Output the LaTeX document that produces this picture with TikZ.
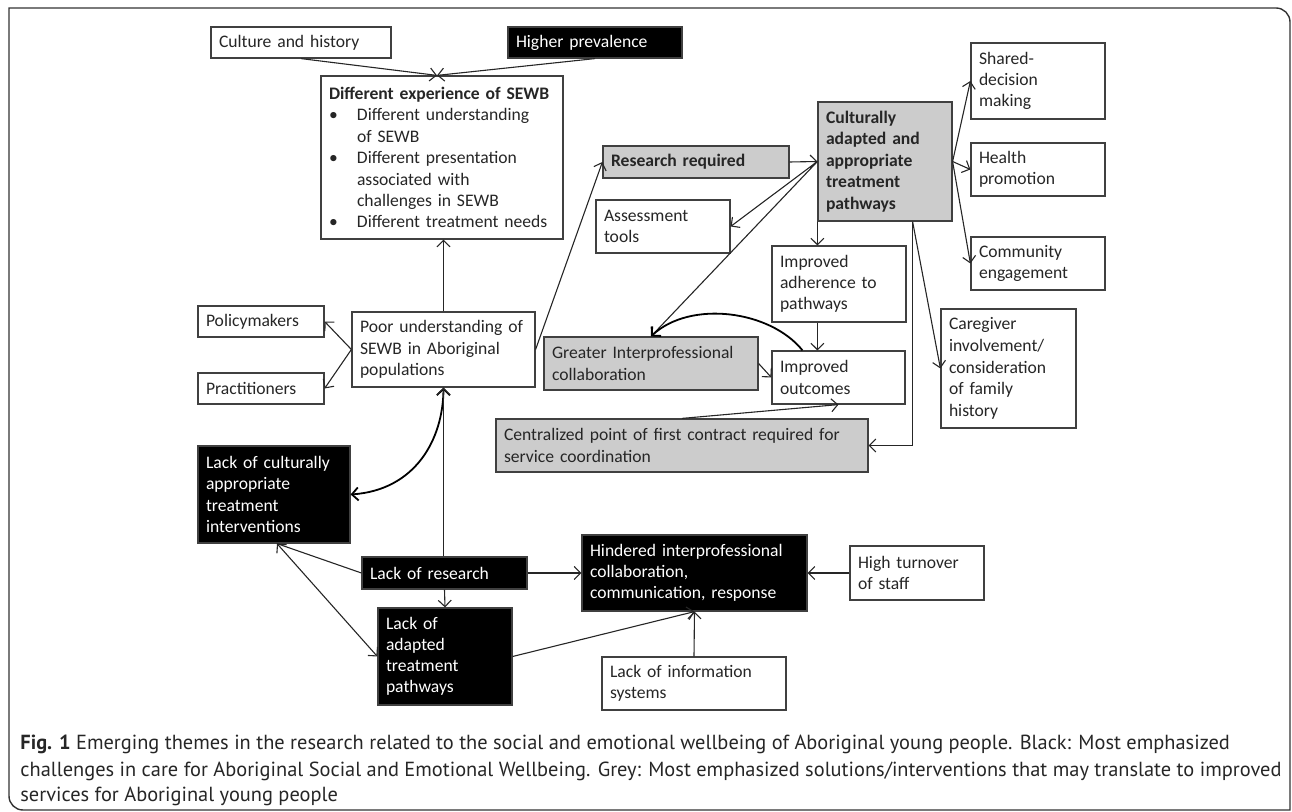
\documentclass[tikz,border=0pt]{standalone}
\usepackage{fontspec}
\setmainfont{Carlito}
\newfontfamily\capfont{PT Sans}
\usetikzlibrary{arrows.meta}

\begin{document}
\begin{tikzpicture}[x=0.5pt, y=-0.5pt,
    >={Straight Barb[length=3.2pt,width=6.5pt]},
    box/.style={rectangle, draw=black!75, line width=0.6pt, inner xsep=4pt,
      inner ysep=0pt, align=left, text=black!85,
      font=\fontsize{8.8}{10.6}\selectfont},
    plainbox/.style={box, fill=white},
    darkbox/.style={box, fill=black, text=white},
    greybox/.style={box, fill=black!20},
    link/.style={->, line width=0.55pt, draw=black!85},
    curvelink/.style={line width=0.9pt, draw=black}
    ]
  \useasboundingbox (0,0) rectangle (1292,812);
  % frame
  \draw[line width=0.7pt, black!80] (9,796) -- (9,8) -- (1276,8)
    arc[start angle=90, end angle=0, radius=7pt] -- (1290,810) -- (23,810)
    arc[start angle=270, end angle=180, radius=7pt] -- cycle;

  % top left
  \node[plainbox, text width=82pt, minimum height=15.5pt] (culture) at (301,42.5) {Culture and history};
  \node[darkbox, text width=79pt, minimum height=15.5pt] (prev) at (595,42.5) {Higher prevalence};
  \node[plainbox, text width=113pt, minimum height=81.5pt, font=\fontsize{8.8}{10.7}\selectfont] (diffexp) at (442,157.5) {%
    \mbox{\textbf{Different experience of SEWB}}\\
    \makebox[14pt][l]{\textbullet}Different understanding\\
    \hspace*{14pt}of SEWB\\
    \makebox[14pt][l]{\textbullet}Different presentation\\
    \hspace*{14pt}associated with\\
    \hspace*{14pt}challenges in SEWB\\
    \makebox[14pt][l]{\textbullet}Different treatment needs};
  \node[plainbox, text width=83.5pt, minimum height=37.5pt] (poor) at (443.5,349.5) {Poor understanding of\\SEWB in Aboriginal\\populations};
  \node[plainbox, text width=55pt, minimum height=15.5pt] (policy) at (261,321.5) {Policymakers};
  \node[plainbox, text width=55pt, minimum height=15.5pt] (pract) at (261,388.5) {Practitioners};

  % challenges (black)
  \node[darkbox, text width=68pt, minimum height=48.5pt] (lackcult) at (274,494.5) {Lack of culturally\\appropriate\\treatment\\interventions};
  \node[darkbox, text width=74.5pt, minimum height=16pt] (lackres) at (444.5,573) {Lack of research};
  \node[darkbox, text width=59pt, minimum height=48.5pt] (lackadapt) at (445,656.5) {Lack of\\adapted\\treatment\\pathways};
  \node[darkbox, text width=104.5pt, minimum height=38pt] (hindered) at (694.5,573) {Hindered interprofessional\\collaboration,\\communication, response};
  \node[plainbox, text width=59pt, minimum height=27pt] (turnover) at (917,573) {High turnover\\of staff};
  \node[plainbox, text width=84pt, minimum height=26.5pt] (infosys) at (694,683.5) {Lack of information\\systems};

  % solutions (grey)
  \node[greybox, text width=85pt, minimum height=16pt, font=\fontsize{8.8}{10.6}\selectfont\bfseries] (resreq) at (696,162) {Research required};
  \node[greybox, text width=59pt, minimum height=59.5pt, font=\fontsize{8.8}{10.8}\selectfont\bfseries] (cultadapt) at (885,161.5) {Culturally\\adapted and\\appropriate\\treatment\\pathways};
  \node[plainbox, text width=59pt, minimum height=26.5pt] (assess) at (663,226.5) {Assessment\\tools};
  \node[plainbox, text width=59pt, minimum height=38pt] (adher) at (839,284) {Improved\\adherence to\\pathways};
  \node[greybox, text width=99pt, minimum height=26.5pt] (greater) at (651,363.5) {Greater Interprofessional\\collaboration};
  \node[plainbox, text width=58.5pt, minimum height=26.5pt] (outcomes) at (838.5,377.5) {Improved\\outcomes};
  \node[greybox, text width=178pt, minimum height=26.5pt] (central) at (682,445.5) {Centralized point of first contract required for\\service coordination};

  % right column
  \node[plainbox, text width=59pt, minimum height=38pt] (shared) at (1038,81) {Shared-\\decision\\making};
  \node[plainbox, text width=59pt, minimum height=26.5pt] (health) at (1038,169.5) {Health\\promotion};
  \node[plainbox, text width=59pt, minimum height=26.5pt] (community) at (1038,263.5) {Community\\engagement};
  \node[plainbox, text width=59.5pt, minimum height=59.5pt, font=\fontsize{8.8}{10.8}\selectfont] (caregiver) at (1008.5,368.5) {Caregiver\\involvement/\\consideration\\of family\\history};

  % caption (base = last line)
  \node[anchor=base west, inner sep=0pt, align=left, text=black!85,
    font=\capfont\fontsize{10.2}{13}\selectfont] (caption) at (20,802)
    {\textbf{Fig. 1} Emerging themes in the research related to the social and emotional wellbeing of Aboriginal young people. Black: Most emphasized\\
     challenges in care for Aboriginal Social and Emotional Wellbeing. Grey: Most emphasized solutions/interventions that may translate to improved\\
     services for Aboriginal young people};

  % connectors
  \coordinate (meet) at ([xshift=-2.5pt]diffexp.north);
  \draw[link] (culture.south) -- (meet);
  \draw[link] (prev.south) -- (meet);
  \draw[link] (poor.north) -- (poor.north |- diffexp.south);
  \draw[link] (poor.west) -- (policy.east);
  \draw[link] (poor.west) -- (pract.east);
  \draw[link] (poor.east) -- (resreq.west);
  \draw[link] (resreq.east) -- (cultadapt.west);
  \draw[link] (cultadapt.west) -- (assess.east);
  \draw[link] (cultadapt.west) -- (greater.north);
  \draw[link] (cultadapt.south west) -- (cultadapt.south west |- adher.north);
  \draw[link] (cultadapt.south west |- adher.south) -- (cultadapt.south west |- outcomes.north);
  \draw[link] (cultadapt.east) -- (shared.west);
  \draw[link] (cultadapt.east) -- (health.west);
  \draw[link] (cultadapt.east) -- (community.west);
  \coordinate (drop) at ([xshift=-20pt]cultadapt.south east);
  \draw[link] (drop) -- (caregiver.west);
  \draw[link] (drop) |- (central.east);
  \draw[link, curvelink] ([xshift=-18pt]outcomes.north) .. controls (770,310) and (690,300) .. (greater.north);
  \draw[link] (greater.east) -- (outcomes.west);
  \draw[link] (central.north) -- (outcomes.south);
  \draw[<->, curvelink] (lackcult.east) .. controls (415,490) and (443,440) .. (poor.south);
  \draw[link] (lackres.north -| poor.south) -- (poor.south);
  \draw[line width=0.55pt, black!85] (lackres.west) -- ([xshift=1.5pt]lackcult.south);
  \draw[<->, line width=0.55pt, black!85] ([xshift=1.5pt]lackcult.south) -- (lackadapt.west);
  \draw[link] (lackres.south) -- (lackadapt.north);
  \draw[link] (lackres.east) -- (hindered.west);
  \draw[link] (lackadapt.east) -- (hindered.south);
  \draw[link] (infosys.north) -- (hindered.south);
  \draw[link] (turnover.west) -- (hindered.east);
\end{tikzpicture}
\end{document}
